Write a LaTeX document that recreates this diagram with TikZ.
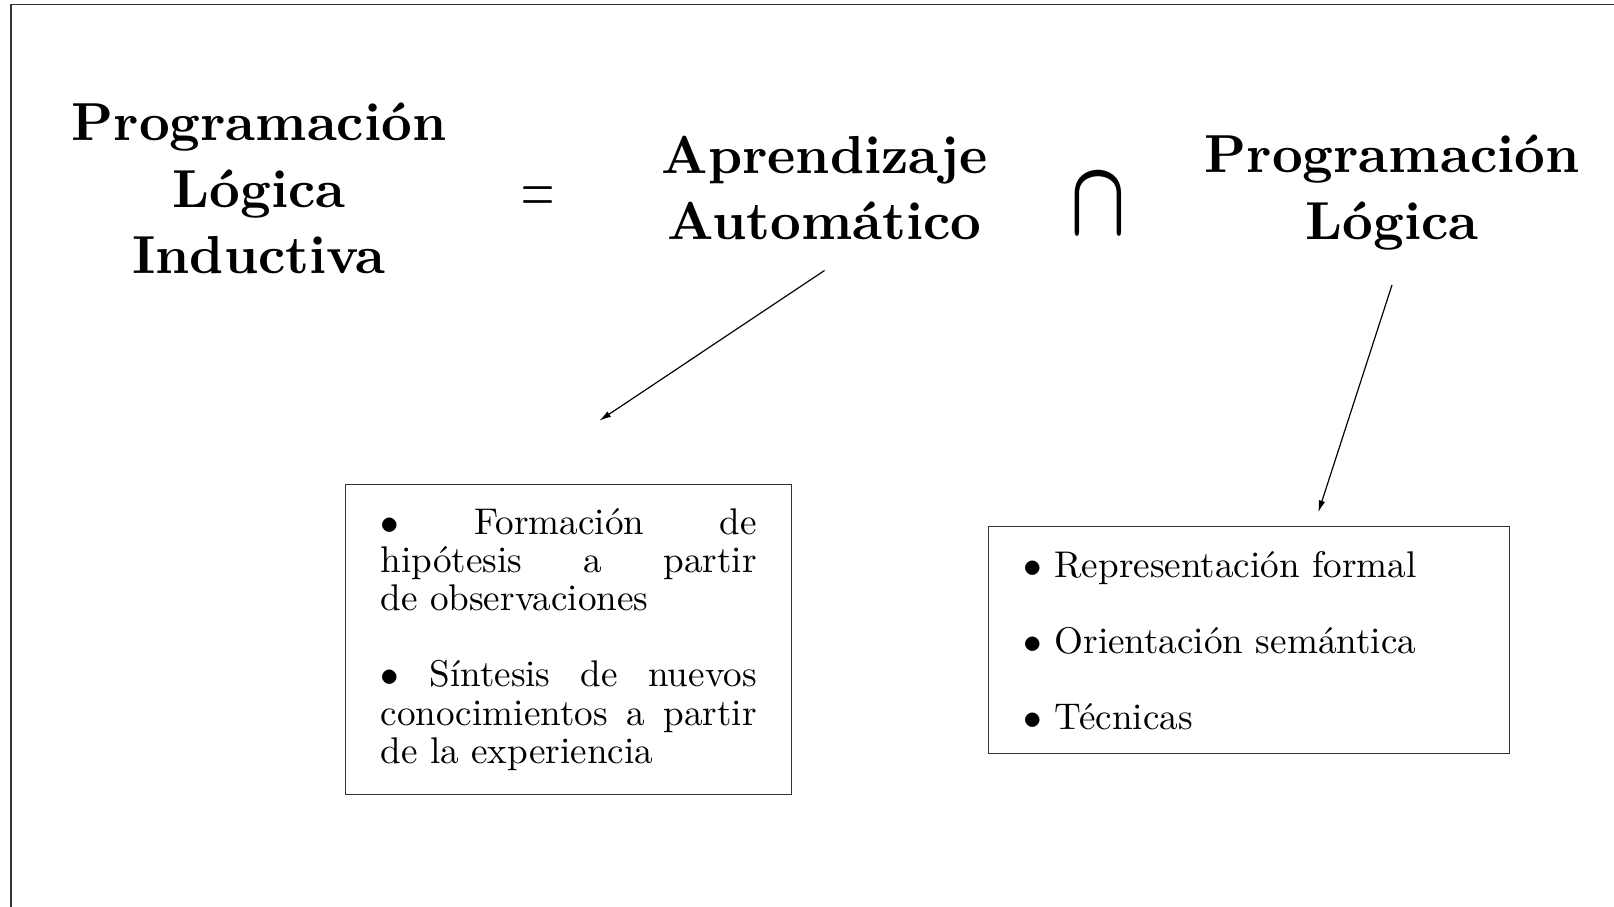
\documentclass[tikz,border=0pt]{standalone}
\usepackage{graphicx}
\usetikzlibrary{arrows.meta}
% Latin Modern 10 escalada (sin tamanos opticos)
\DeclareFontFamily{TU}{lmrdiez}{}
\DeclareFontShape{TU}{lmrdiez}{m}{n}{<-> \UnicodeFontFile{lmroman10-regular}{\UnicodeFontTeXLigatures}}{}
\DeclareFontShape{TU}{lmrdiez}{bx}{n}{<-> \UnicodeFontFile{lmroman10-bold}{\UnicodeFontTeXLigatures}}{}
\begin{document}
\begin{tikzpicture}[x=0.4651pt,y=-0.4651pt,
    titulo/.style={font=\fontfamily{lmrdiez}\fontsize{24.88}{31}\selectfont\bfseries, align=center, anchor=base},
    caja/.style={draw=black!80, line width=0.5pt, font=\fontfamily{lmrdiez}\fontsize{17.28}{17.7}\selectfont,
      inner xsep=16.3pt, inner ysep=11.3pt, anchor=north west},
    flecha/.style={line width=0.55pt, -{Latex[length=5.5pt,width=3pt]}}]
  \useasboundingbox (0,0) rectangle (1614,907);
  % marco
  \draw[black!80, line width=0.7pt] (11,907) -- (11,4.3) -- (1614,4.3);
  % ecuacion
  \node[titulo] (pli) at (259,274) {Programación\\Lógica\\Inductiva};
  \node (igual) at (538,200.5) {\scalebox{1.03}[1.75]{\huge$=$}};
  \node[titulo] (aa) at (824.5,240) {Aprendizaje\\Automático};
  \node (inter) at (1098,205) {\scalebox{1.36}[1.99]{\Huge\boldmath$\cap$}};
  \node[titulo] (pl) at (1392,239.5) {Programación\\Lógica};
  % cajas
  \node[caja, text width=175pt, align=justify] (aacaja) at (345,484)
    {$\bullet$ Formación de\linebreak hipótesis a partir\linebreak de observaciones\par
     \vspace{\baselineskip}
     $\bullet$ Síntesis de nuevos\linebreak conocimientos a partir\linebreak de la experiencia};
  \node[caja, text width=209.7pt, align=left] (plcaja) at (988,526)
    {$\bullet$ Representación formal\\[\baselineskip]
     $\bullet$ Orientación semántica\\[\baselineskip]
     $\bullet$ Técnicas};
  % flechas
  \coordinate (aafin) at (599.3,420.7);
  \coordinate (plfin) at (1318.3,512.3);
  \draw[flecha] ([yshift=-10.5pt]aa.south) -- (aafin);
  \draw[flecha] ([yshift=-12.6pt]pl.south) -- (plfin);
\end{tikzpicture}
\end{document}
